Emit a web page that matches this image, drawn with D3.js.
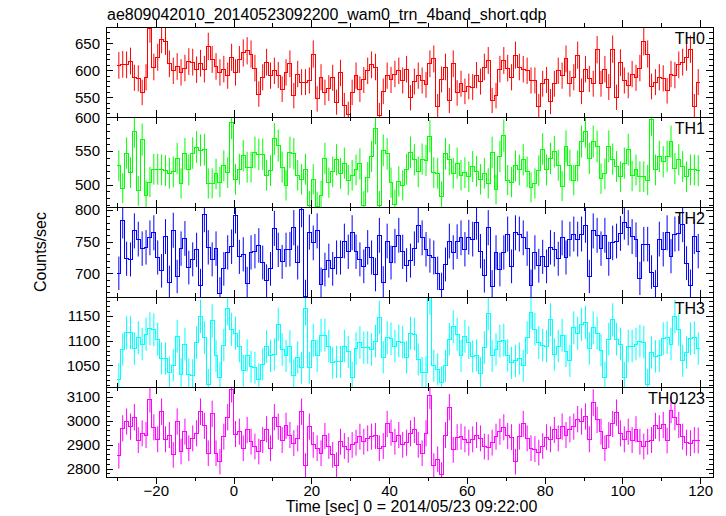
<!DOCTYPE html>
<html><head><meta charset="utf-8">
<script src="https://cdn.jsdelivr.net/npm/d3@7"></script>
<style>
html,body{margin:0;padding:0;background:#fff;}
svg{display:block;font-family:"Liberation Sans",Arial,Helvetica,sans-serif;}
</style></head><body>
<svg id="chart" width="726" height="516"></svg>
<script>
const title = "ae809042010_20140523092200_wam0_trn_4band_short.qdp";
const xLabel = "Time [sec] 0 = 2014/05/23 09:22:00";
const yLabel = "Counts/sec";
const panelNames = ["TH0","TH1","TH2","TH3","TH0123"];
const colors = ["#ff0000","#00ff00","#0000ff","#00ffff","#ff00ff"];
// 1-s bins, first bin centred at -29.5 s
const binStart = -29.5, binWidth = 1;

const th0 = [609,611,610,617,586,585,559,587,677,606,
624,657,654,612,599,607,596,604,616,615,
601,613,602,644,620,607,596,602,590,624,
596,620,632,636,630,604,556,587,615,590,
599,591,565,596,612,553,593,578,578,581,
630,547,587,559,567,586,541,595,535,519,
559,590,565,582,599,610,606,517,561,590,
582,593,599,581,602,549,
579,590,581,573,612,621,533,583,606,544,
612,558,575,561,570,569,591,579,606,618,
544,553,602,618,604,587,628,606,602,599,
581,581,533,575,582,542,575,599,590,621,
575,587,628,561,602,584,575,638,575,602,
569,639,550,614,581,572,593,586,604,653,
630,570,578,587,585,562,593,591,610,615,
624,639,533,578];

const th1 = [528,495,547,518,579,491,567,484,504,523,
523,522,521,517,519,539,502,546,522,547,
556,551,552,502,502,516,504,528,518,592,
508,523,543,526,526,548,545,545,514,521,
568,558,526,499,548,546,514,508,523,469,
508,468,484,539,503,519,537,517,532,507,
514,522,531,469,511,542,584,469,551,546,
503,471,505,499,523,548,537,519,538,536,
572,518,517,483,546,537,517,532,514,518,
512,527,520,508,517,502,548,493,542,573,
507,504,528,522,537,519,496,502,521,553,
522,539,549,529,498,557,529,507,528,564,
579,539,564,557,509,516,557,538,527,512,
532,552,513,522,512,512,507,597,522,542,
534,542,564,524,537,527,512,522,522,521];

const th2 = [700,783,723,722,767,754,739,741,756,764,
725,704,758,686,768,695,739,755,709,722,
737,681,793,741,722,739,668,707,733,742,
791,726,730,684,733,735,744,717,688,707,
771,737,718,737,738,772,717,801,664,765,
748,767,683,706,720,707,725,725,751,734,
764,734,722,711,741,725,698,760,685,751,
717,743,760,734,713,720,739,776,756,738,
728,725,700,675,714,751,733,750,756,738,
757,754,781,735,696,772,679,733,706,733,
762,711,764,762,756,739,680,733,712,726,
711,741,738,723,756,725,754,762,754,762,
776,695,767,760,739,760,723,748,751,763,
781,772,758,753,692,746,746,702,679,754,
738,764,727,762,763,777,716,680,758,735];

const th3 = [1022,1082,1116,1116,1084,1106,1093,1113,1124,1122,
1103,1064,1064,1036,1050,1109,1032,1093,1032,1030,
1096,1149,1106,1011,1140,1069,1025,1091,1165,1123,
1115,1089,1039,1070,1047,1045,1022,1052,1088,1069,
1072,1133,1082,1069,1088,1030,1066,1045,1165,1045,
1101,1069,1111,1111,1089,1055,1057,1057,1089,1077,
1025,1084,1096,1086,1086,1082,1099,1147,1066,1106,
1104,1089,1099,1097,1066,1115,1113,1062,1035,1036,
1187,1049,1042,1016,1049,1103,1128,1113,1069,1109,
1096,1068,1070,1034,1086,1155,1069,1082,1099,1101,
1070,1055,1059,1064,1049,1106,1158,1123,1096,1091,
1089,1142,1072,1089,1111,1079,1059,1126,1115,1133,
1137,1084,1126,1115,1081,1025,1103,1142,1103,1093,
1025,1089,1089,1093,1099,1097,1011,1076,1068,1069,
1104,1106,1093,1149,1123,1059,1076,1104,1106,1084];

const th0123 = [2853,2968,2996,2975,3014,2919,2947,2940,3089,2972,
2922,3037,2922,2940,2857,2996,2871,2954,2885,2926,
2947,3037,2978,2864,3028,2864,2829,2933,3014,3131,
2944,2954,2885,2961,2912,2892,2871,2919,2964,2885,
3014,2975,2919,2978,2940,2906,2926,3037,2811,2975,
2899,2885,2864,2936,2894,2857,2815,2912,2894,2878,
2899,2908,2933,2912,2926,2933,2936,2885,2894,2986,
2950,2912,2940,2899,2908,2947,2961,2899,2864,2947,
3103,2811,2839,2774,2940,3056,2878,2931,2933,2922,
2908,2922,2940,2926,2892,2889,2908,2933,2954,2972,
2936,2931,2829,2933,2986,2926,2885,2881,2867,2894,
2931,2922,2961,2926,2975,2940,2964,2975,3006,2996,
3017,2922,3075,3003,2954,2885,2940,2986,3033,2947,
2922,2954,2919,2964,2912,2892,2912,2919,2978,2968,
2982,2917,3044,3014,2982,2933,2908,2906,2919,2917];

const series = [th0, th1, th2, th3, th0123];
const xDomain = [-32.8, 123.3];
const yDomains = [[513.5,680],[467,600.5],[662.6,804.7],[1006,1188.5],[2765,3140]];
const yMajorTicks = [[550,600,650],[500,550,600],[700,750,800],[1050,1100,1150],[2800,2900,3000,3100]];
const yMinorStep = [10,10,10,10,20];
const xMajorTicks = [-20,0,20,40,60,80,100,120];
const xMinorTicks = [-30,-10,10,30,50,70,90,110];

const W = 726, H = 516;
const left = 106, right = 713, top0 = 27, panelH = 90;
const svg = d3.select("#chart");
const x = d3.scaleLinear().domain(xDomain).range([left, right]);

svg.append("text").attr("x", 107).attr("y", 20).attr("font-size", 16).attr("fill", "#000").text(title);

series.forEach((vals, k) => {
  const pt = top0 + k * panelH, pb = pt + panelH;
  const y = d3.scaleLinear().domain(yDomains[k]).range([pb, pt]);
  const g = svg.append("g");
  const clipId = "clip" + k;
  svg.append("clipPath").attr("id", clipId).append("rect")
    .attr("x", left).attr("y", pt).attr("width", right - left).attr("height", panelH);
  const data = vals.map((v, i) => ({t: binStart + i * binWidth, v: v, e: Math.sqrt(v * binWidth) / binWidth}));
  const dg = g.append("g").attr("clip-path", `url(#${clipId})`);
  // error bars
  dg.selectAll("line.err").data(data).enter().append("line")
    .attr("class", "err")
    .attr("x1", d => x(d.t)).attr("x2", d => x(d.t))
    .attr("y1", d => y(d.v - d.e)).attr("y2", d => y(d.v + d.e))
    .attr("stroke", colors[k]).attr("stroke-width", 1);
  // step line
  const stepPts = data.map(d => [d.t - binWidth / 2, d.v]);
  stepPts.push([data[data.length - 1].t + binWidth / 2, data[data.length - 1].v]);
  const line = d3.line().x(d => x(d[0])).y(d => y(d[1])).curve(d3.curveStepAfter);
  dg.append("path").attr("d", line(stepPts)).attr("fill", "none")
    .attr("stroke", colors[k]).attr("stroke-width", 1).attr("shape-rendering", "crispEdges");

  // axes (ticks inward)
  const minor = d3.range(Math.ceil(yDomains[k][0] / yMinorStep[k]) * yMinorStep[k], yDomains[k][1], yMinorStep[k])
    .filter(v => !yMajorTicks[k].includes(v));
  const ax = (gen, tx, ty) => {
    const a = g.append("g").attr("transform", `translate(${tx},${ty})`).call(gen);
    a.select(".domain").remove();
    a.selectAll("line").attr("stroke", "#000").attr("shape-rendering", "crispEdges");
    a.selectAll("text").attr("font-size", 15).attr("fill", "#000")
      .attr("font-family", '"Liberation Sans",Arial,Helvetica,sans-serif');
    return a;
  };
  ax(d3.axisLeft(y).tickValues(yMajorTicks[k]).tickSize(-7).tickPadding(6).tickFormat(d3.format("d")), left, 0);
  ax(d3.axisLeft(y).tickValues(minor).tickSize(-4).tickFormat(""), left, 0);
  ax(d3.axisRight(y).tickValues(yMajorTicks[k]).tickSize(-7).tickFormat(""), right, 0);
  ax(d3.axisRight(y).tickValues(minor).tickSize(-4).tickFormat(""), right, 0);
  ax(d3.axisTop(x).tickValues(xMajorTicks).tickSize(-7).tickFormat(""), 0, pb);
  ax(d3.axisTop(x).tickValues(xMinorTicks).tickSize(-4).tickFormat(""), 0, pb);
  ax(d3.axisBottom(x).tickValues(xMajorTicks).tickSize(-7).tickFormat(""), 0, pt);
  ax(d3.axisBottom(x).tickValues(xMinorTicks).tickSize(-4).tickFormat(""), 0, pt);
  if (k === series.length - 1) {
    ax(d3.axisBottom(x).tickValues(xMajorTicks).tickSize(0).tickPadding(8)
      .tickFormat(d => d < 0 ? "\u2212" + Math.abs(d) : String(d)), 0, pb);
  }
  // panel frame line
  g.append("rect").attr("x", left).attr("y", pt).attr("width", right - left).attr("height", panelH)
    .attr("fill", "none").attr("stroke", "#000").attr("stroke-width", 1).attr("shape-rendering", "crispEdges");
  g.append("text").attr("x", 705).attr("y", pt + 17).attr("text-anchor", "end")
    .attr("font-size", 16).attr("fill", "#000").text(panelNames[k]);
});

svg.append("text").attr("transform", `translate(46,${top0 + 2.5 * panelH}) rotate(-90)`)
  .attr("text-anchor", "middle").attr("font-size", 16).attr("fill", "#000").text(yLabel);
svg.append("text").attr("x", (left + right) / 2 + 2).attr("y", 512).attr("text-anchor", "middle")
  .attr("font-size", 16).attr("fill", "#000").text(xLabel);
</script>
</body></html>
